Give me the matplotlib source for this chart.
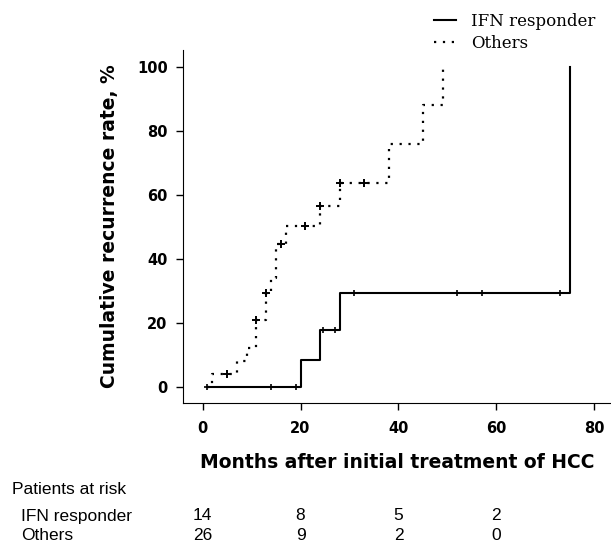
import numpy as np
import matplotlib
matplotlib.use('Agg')
import matplotlib.pyplot as plt
import matplotlib.transforms as mtransforms

# cumulative recurrence (months, %)
ifn_time = [1, 20, 24, 28, 75]
ifn_rate = [0, 8.3, 17.6, 29.2, 100]
ifn_cens = [1, 14, 19, 24.5, 27, 31, 52, 57, 73]

oth_time = [1, 2, 7, 9, 11, 13, 14, 15, 17, 24, 28, 38, 45, 49]
oth_rate = [0, 4.1, 8.1, 12.2, 20.7, 29.4, 34.0, 44.5, 50.2, 56.3, 63.6, 75.8, 88.0, 100]
oth_cens = [5, 11, 13, 16, 21, 24, 28, 33]

risk_months = [0, 20, 40, 60]
risk_ifn = [14, 8, 5, 2]
risk_oth = [26, 9, 2, 0]


def level_at(times, rates, t):
    i = np.searchsorted(times, t, side='right') - 1
    return np.array(rates)[i]


fig = plt.figure(figsize=(6.11, 5.48), dpi=100)
ax = fig.add_axes([183/611, 145/548, 428/611, 353/548])

l1, = ax.step(ifn_time, ifn_rate, where='post', color='black', lw=1.5)
l2, = ax.step(oth_time, oth_rate, where='post', color='black', lw=1.6,
              linestyle=(0, (1, 3)))
ax.plot(ifn_cens, level_at(ifn_time, ifn_rate, ifn_cens), '+', color='black',
        ms=5, mew=1.2)
ax.plot(oth_cens, level_at(oth_time, oth_rate, oth_cens), '+', color='black',
        ms=6, mew=1.4)

ax.set_xlim(-4, 83.4)
ax.set_ylim(-5.1, 105.2)
ax.set_xticks([0, 20, 40, 60, 80])
ax.set_yticks([0, 20, 40, 60, 80, 100])
ax.spines['top'].set_visible(False)
ax.spines['right'].set_visible(False)
ax.tick_params(direction='out', length=5, width=1, labelsize=10.5)
ax.tick_params(axis='x', pad=8)
ax.tick_params(axis='y', pad=6)
for lab in ax.get_xticklabels() + ax.get_yticklabels():
    lab.set_fontweight('bold')

ax.set_xlabel('Months after initial treatment of HCC', fontsize=13.5,
              fontweight='bold')
ax.xaxis.set_label_coords(0.5, -0.142)
ax.set_ylabel('Cumulative recurrence rate, %', fontsize=13.5,
              fontweight='bold')
ax.yaxis.set_label_coords(-0.15, 0.5)

fig.legend([l1, l2], ['IFN responder', 'Others'], loc='upper left',
           bbox_to_anchor=(434/611, 1 - 13/548), frameon=False,
           prop={'family': 'DejaVu Serif', 'size': 12},
           handlelength=1.3, handletextpad=0.9, labelspacing=0.3,
           borderpad=0, borderaxespad=0)

# patients at risk table
sans = ['Liberation Sans', 'DejaVu Sans']
trans = mtransforms.blended_transform_factory(ax.transData, fig.transFigure)
fig.text(12/611, 1 - 490/548, 'Patients at risk', fontsize=12.5, family=sans,
         va='center')
fig.text(21/611, 1 - 516/548, 'IFN responder', fontsize=12.5, family=sans,
         va='center')
fig.text(21/611, 1 - 535/548, 'Others', fontsize=12.5, family=sans,
         va='center')
for m, a, b in zip(risk_months, risk_ifn, risk_oth):
    fig.text(m, 1 - 516/548, str(a), transform=trans, fontsize=12.5,
             family=sans, ha='center', va='center')
    fig.text(m, 1 - 535/548, str(b), transform=trans, fontsize=12.5,
             family=sans, ha='center', va='center')

fig.savefig('out.png', dpi=100)
